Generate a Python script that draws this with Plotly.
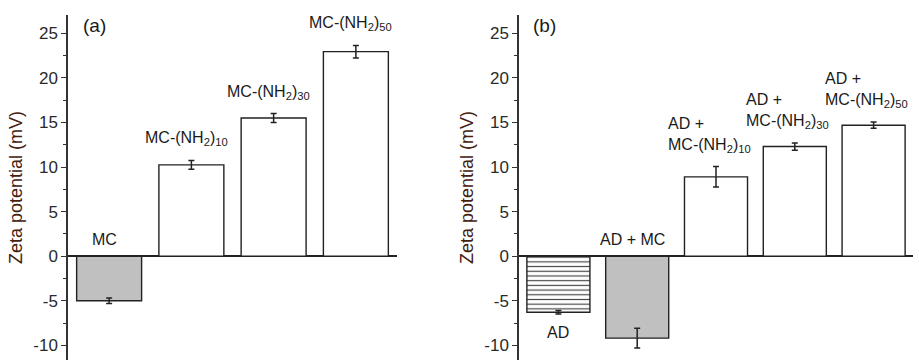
import plotly.graph_objects as go

# ---------------- data ----------------
a_categories = ["MC", "MC-(NH2)10", "MC-(NH2)30", "MC-(NH2)50"]
a_values = [-5.0, 10.25, 15.5, 22.95]
a_errors = [0.3, 0.5, 0.5, 0.7]
a_labels = ["MC", "MC-(NH<sub>2</sub>)<sub>10</sub>", "MC-(NH<sub>2</sub>)<sub>30</sub>",
            "MC-(NH<sub>2</sub>)<sub>50</sub>"]

b_categories = ["AD", "AD + MC", "AD + MC-(NH2)10", "AD + MC-(NH2)30", "AD + MC-(NH2)50"]
b_values = [-6.3, -9.2, 8.9, 12.3, 14.7]
b_errors = [0.2, 1.1, 1.15, 0.4, 0.35]
b_labels = ["AD", "AD + MC", "AD +<br>MC-(NH<sub>2</sub>)<sub>10</sub>",
            "AD +<br>MC-(NH<sub>2</sub>)<sub>30</sub>", "AD +<br>MC-(NH<sub>2</sub>)<sub>50</sub>"]

tick_vals = [-10, -5, 0, 5, 10, 15, 20, 25]
tick_text = ["-10", "-5", "0", "5", "10", "15", "20", "25"]
y_title = "Zeta potential (mV)"

# ---------------- style ----------------
FONT = "Arial, 'Liberation Sans', sans-serif"
DARK = "#222222"
GRAY = "#c0c0c0"
W, H = 919, 360

a_fill = [GRAY, "white", "white", "white"]
b_fill = ["white", GRAY, "white", "white", "white"]
b_pattern = ["-", "", "", "", ""]

fig = go.Figure()

fig.add_trace(go.Bar(
    x=a_categories, y=a_values, width=0.79,
    marker=dict(color=a_fill, line=dict(color=DARK, width=1.4)),
    error_y=dict(type="data", array=a_errors, color=DARK, thickness=1.5, width=3),
    xaxis="x", yaxis="y", showlegend=False,
))
fig.add_trace(go.Bar(
    x=b_categories, y=b_values, width=0.80,
    marker=dict(color=b_fill, line=dict(color=DARK, width=1.4),
                pattern=dict(shape=b_pattern, size=4.7, solidity=0.25,
                             fgcolor="#2a2a2a", fgopacity=1, bgcolor="white", fillmode="overlay")),
    error_y=dict(type="data", array=b_errors, color=DARK, thickness=1.5, width=3),
    xaxis="x2", yaxis="y2", showlegend=False,
))

y_top = 0.958
yrange = [-11.65, 27.05]

def yaxis_cfg(anchor):
    return dict(
        domain=[0, y_top], range=yrange, anchor=anchor,
        showline=True, linecolor="#333333", linewidth=1.5,
        ticks="outside", ticklen=5, tickwidth=1.3, tickcolor="#333333",
        tickvals=tick_vals, ticktext=tick_text,
        minor=dict(ticks="outside", ticklen=3, tickwidth=1.2, tickcolor="#333333", dtick=2.5, tick0=0),
        tickfont=dict(family=FONT, size=17, color="#2a2a2a"),
        showgrid=False, zeroline=True, zerolinecolor="#222222", zerolinewidth=1.5,
        title=dict(text=y_title, font=dict(family=FONT, size=18, color="#45200f"), standoff=6),
        automargin=False,
    )

def xaxis_cfg(domain, n, anchor):
    return dict(domain=domain, range=[-0.5, n - 0.5], anchor=anchor,
                showline=False, showticklabels=False, ticks="", showgrid=False,
                zeroline=False, automargin=False)

fig.update_layout(
    width=W, height=H, margin=dict(l=0, r=0, t=0, b=0),
    paper_bgcolor="white", plot_bgcolor="white",
    xaxis=xaxis_cfg([68 / W, 397 / W], len(a_categories), "y"),
    yaxis=yaxis_cfg("x"),
    xaxis2=xaxis_cfg([519 / W, 913 / W], len(b_categories), "y2"),
    yaxis2=yaxis_cfg("x2"),
    bargap=0.2,
)

annots = []
lab_font = dict(family=FONT, size=16, color="#1a1a1a")

def add_labels(cats, vals, errs, labels, xref, yref, below_idx=()):
    for i, (c, v, e, t) in enumerate(zip(cats, vals, errs, labels)):
        if v >= 0:
            two_line = "<br>" in t
            annots.append(dict(x=c, y=v + e, xref=xref, yref=yref, text=t, showarrow=False,
                               yanchor="bottom", xanchor="center", align="left",
                               yshift=10, xshift=-7 if two_line else -5, font=lab_font))
        elif i in below_idx:
            annots.append(dict(x=c, y=v - e, xref=xref, yref=yref, text=t, showarrow=False,
                               yanchor="top", xanchor="center", yshift=-8, font=lab_font))
        else:
            annots.append(dict(x=c, y=0, xref=xref, yref=yref, text=t, showarrow=False,
                               yanchor="bottom", xanchor="center", yshift=6, xshift=-5, font=lab_font))

add_labels(a_categories, a_values, a_errors, a_labels, "x", "y")
add_labels(b_categories, b_values, b_errors, b_labels, "x2", "y2", below_idx=(0,))

panel_font = dict(family=FONT, size=19, color="#1a1a1a")
annots.append(dict(x=0.04, y=1.0, xref="x domain", yref="y domain", text="(a)",
                   showarrow=False, xanchor="left", yanchor="top", yshift=2, font=panel_font))
annots.append(dict(x=0.03, y=1.0, xref="x2 domain", yref="y2 domain", text="(b)",
                   showarrow=False, xanchor="left", yanchor="top", yshift=2, font=panel_font))

fig.update_layout(annotations=annots)

fig.write_html("out.html")
